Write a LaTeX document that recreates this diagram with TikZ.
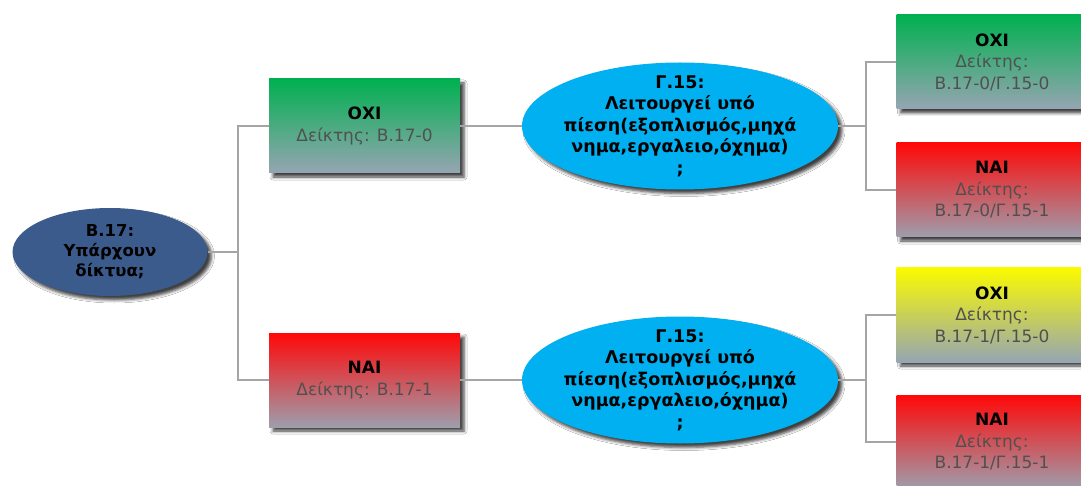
\documentclass[tikz,border=0pt]{standalone}
\usepackage{fontspec}
\setmainfont{DejaVu Sans}
\usetikzlibrary{shapes.geometric,shadows.blur}
\definecolor{qdark}{RGB}{59,91,140}
\definecolor{qcyan}{RGB}{0,176,240}
\definecolor{gtop}{RGB}{0,176,80}
\definecolor{rtop}{RGB}{255,8,8}
\definecolor{ytop}{RGB}{250,250,0}
\definecolor{btm}{RGB}{150,165,178}
\definecolor{rbtm}{RGB}{158,158,172}
\definecolor{txtgray}{RGB}{80,80,80}
\definecolor{linegray}{RGB}{165,165,165}
\begin{document}
\begin{tikzpicture}[x=1pt,y=-1pt,
  shad/.style={blur shadow={shadow xshift=4pt, shadow yshift=-4pt, shadow blur radius=3pt, shadow opacity=75}},
  box/.style={rectangle, minimum width=191pt, minimum height=94pt, inner sep=0pt, align=center,
    font=\fontsize{17}{21.5}\selectfont, shad},
  okbox/.style={box, top color=gtop, bottom color=btm},
  nobox/.style={box, top color=rtop, bottom color=rbtm},
  ybox/.style={box, top color=ytop, bottom color=btm},
  quest/.style={ellipse, inner sep=-14pt, align=center,
    font=\bfseries\fontsize{17.5}{21.5}\selectfont, shad},
  conn/.style={draw=linegray, line width=1.5pt}]
\useasboundingbox (0,0) rectangle (1081,486);
\clip (0,0) rectangle (1081,486);
\fill[white] (0,0) rectangle (1081,486);

\node[quest, fill=qdark, minimum width=195pt, minimum height=88pt,
  font=\bfseries\fontsize{16.5}{20}\selectfont] (b17) at (110,252)
  {Β.17:\\Υπάρχουν\\δίκτυα;};

\node[okbox] (b0) at (364.5,126) {{\bfseries ΟΧΙ}\\{\color{txtgray}Δείκτης: Β.17-0}};
\node[nobox] (b1) at (364.5,380) {{\bfseries ΝΑΙ}\\{\color{txtgray}Δείκτης: Β.17-1}};

\node[quest, fill=qcyan, minimum width=316pt, minimum height=127pt] (g0) at (680,126)
  {Γ.15:\\Λειτουργεί υπό\\πίεση(εξοπλισμός,μηχά\\νημα,εργαλειο,όχημα)\\;};
\node[quest, fill=qcyan, minimum width=316pt, minimum height=127pt] (g1) at (680,380)
  {Γ.15:\\Λειτουργεί υπό\\πίεση(εξοπλισμός,μηχά\\νημα,εργαλειο,όχημα)\\;};

\node[okbox] (r00) at (992,62) {{\bfseries ΟΧΙ}\\{\color{txtgray}Δείκτης:}\\{\color{txtgray}Β.17-0/Γ.15-0}};
\node[nobox] (r01) at (992,190) {{\bfseries ΝΑΙ}\\{\color{txtgray}Δείκτης:}\\{\color{txtgray}Β.17-0/Γ.15-1}};
\node[ybox] (r10) at (992,315) {{\bfseries ΟΧΙ}\\{\color{txtgray}Δείκτης:}\\{\color{txtgray}Β.17-1/Γ.15-0}};
\node[nobox] (r11) at (992,442) {{\bfseries ΝΑΙ}\\{\color{txtgray}Δείκτης:}\\{\color{txtgray}Β.17-1/Γ.15-1}};

\coordinate (j1) at (238,252);
\coordinate (j2) at (866,126);
\coordinate (j3) at (866,380);

\draw[conn] (b17.east) -- (j1) |- (b0.west);
\draw[conn] (j1) |- (b1.west);
\draw[conn] (b0.east) -- (g0.west);
\draw[conn] (b1.east) -- (g1.west);
\draw[conn] (g0.east) -- (j2) |- (r00.west);
\draw[conn] (j2) |- (r01.west);
\draw[conn] (g1.east) -- (j3) |- (r10.west);
\draw[conn] (j3) |- (r11.west);
\end{tikzpicture}
\end{document}
